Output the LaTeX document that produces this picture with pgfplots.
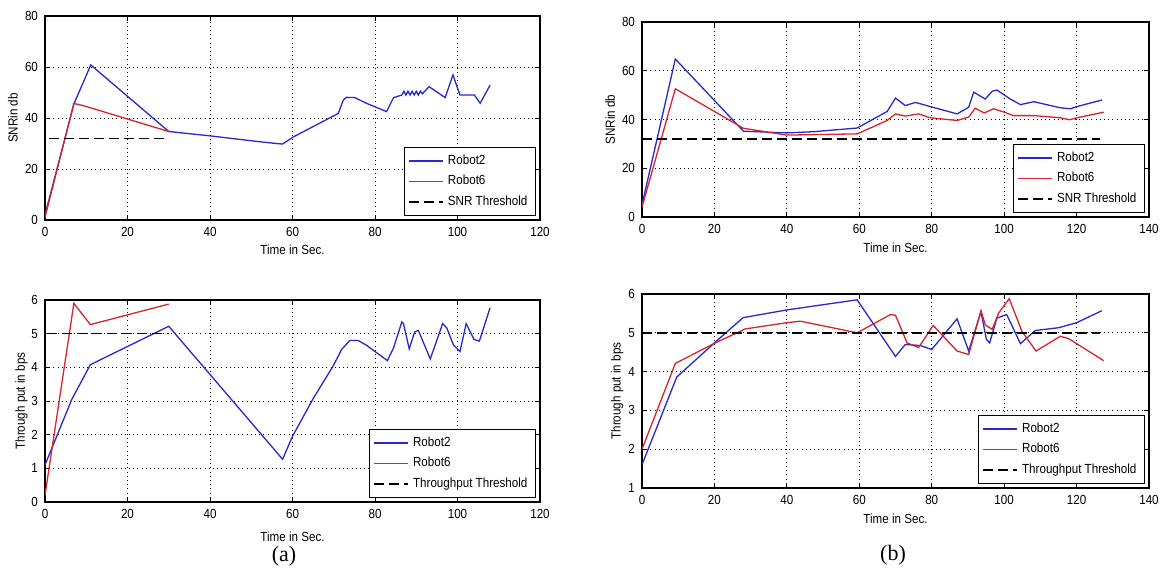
\documentclass[border=0pt]{standalone}
\usepackage{fontspec}
\setmainfont{Liberation Sans}[FakeStretch=0.88]
\newfontfamily\capfont{Liberation Serif}
\usepackage{pgfplots}
\pgfplotsset{compat=1.18}
\definecolor{mblue}{RGB}{40,40,205}
\definecolor{mred}{RGB}{215,35,45}
\newcommand{\fs}{\fontsize{6.6}{7.5}\selectfont}
\pgfplotsset{
  mstyle/.style={
    scale only axis,
    font=\fs,
    /pgf/number format/assume math mode=true,
    tick label style={font=\fs},
    label style={font=\fs},
    grid=major,
    major grid style={black, line width=0.5pt, dash pattern=on 0.5pt off 1.6pt},
    axis line style={black, line width=0.65pt},
    tick style={black, line width=0.5pt},
    major tick length=2.5pt,
    tick align=inside,
    legend style={at={(1,0)}, anchor=south east, xshift=-2pt, yshift=2pt,
      draw=black, line width=0.6pt, font=\fs, inner xsep=2pt, inner ysep=1.5pt,
      row sep=0pt, fill=white},
    legend image code/.code={\draw[#1] (0pt,0pt) -- (17pt,0pt);},
    legend cell align=left,
  },
  bl/.style={mblue, line width=0.65pt, mark=none},
  rd/.style={mred, line width=0.65pt, mark=none},
  th/.style={black, line width=0.7pt, dash pattern=on 5pt off 2.5pt, mark=none},
}
\begin{document}
\begin{tikzpicture}
\useasboundingbox (0,0) rectangle (583.5pt,287pt);

% (a) top
\begin{axis}[mstyle, at={(22.5pt,177pt)}, anchor=south west,
  width=247.5pt, height=102pt,
  xmin=0, xmax=120, ymin=0, ymax=80,
  xtick={0,20,...,120}, ytick={0,20,...,80},
  xlabel={Time in Sec.}, ylabel={SNRin db},
  xlabel style={at={(axis description cs:0.5,-0.147)}, anchor=center},
  ylabel style={at={(axis description cs:-0.065,0.5)}, anchor=center},
]
\addplot[bl] coordinates {(0,2) (7,45.5) (11.1,60.8) (30,34.7) (40,33) (52,30.7) (56,30) (57.6,29.8) (60,32.4) (71.1,41.8) (72.3,47) (73.1,48.1) (75.1,48) (77.9,45.8) (82.8,42.5) (84.5,48) (85.7,48.6) (86.5,49) (87,50.5) (87.5,49) (88,50.5) (88.5,49) (89,50.5) (89.5,49) (90,50.5) (90.5,49) (91,50.5) (91.5,49.5) (93.1,52.3) (97,48) (98.9,56.9) (100.6,49) (104.1,49) (105.5,45.8) (107.9,52.9)};
\addplot[rd] coordinates {(0,1) (7,45.7) (9.2,44.9) (30,34.7)};
\addplot[th] coordinates {(1,32) (30,32)};
\legend{Robot2,Robot6,SNR Threshold}
\end{axis}

% (a) bottom
\begin{axis}[mstyle, at={(22.5pt,36pt)}, anchor=south west,
  width=247.5pt, height=101pt,
  xmin=0, xmax=120, ymin=0, ymax=600000,
  xtick={0,20,...,120}, ytick={0,100000,200000,300000,400000,500000,600000},
  yticklabels={0,1,2,3,4,5,6}, scaled y ticks=false,
  xlabel={Time in Sec.}, ylabel={Through put in  bps},
  xlabel style={at={(axis description cs:0.5,-0.17)}, anchor=center},
  ylabel style={at={(axis description cs:-0.0475,0.5)}, anchor=center},
]
\addplot[bl] coordinates {(0,1.1e5) (6.5,3.05e5) (11,4.08e5) (30,5.22e5) (57.6,1.27e5) (60,1.95e5) (65,3.07e5) (69.9,4.05e5) (71.9,4.53e5) (73.9,4.8e5) (75.9,4.8e5) (77.9,4.66e5) (83,4.2e5) (84.5,4.58e5) (86.5,5.35e5) (86.9,5.3e5) (88.3,4.55e5) (89.6,5.05e5) (90.5,5.1e5) (93.4,4.25e5) (96.4,5.3e5) (97.4,5.17e5) (99,4.67e5) (100.6,4.47e5) (102.1,5.3e5) (104,4.83e5) (105.3,4.78e5) (107.9,5.77e5)};
\addplot[rd] coordinates {(0,0.2e5) (7,5.9e5) (11,5.27e5) (30,5.88e5)};
\addplot[th] coordinates {(0.5,5e5) (30,5e5)};
\legend{Robot2,Robot6,Throughput Threshold}
\node[anchor=base west, inner sep=0pt, font=\fs] at (axis description cs:0,1.035) {x\,10\raisebox{0.55ex}{\fontsize{5}{5}\selectfont 5}};
\end{axis}

% (b) top
\begin{axis}[mstyle, at={(321pt,178.5pt)}, anchor=south west,
  width=253.5pt, height=97.5pt,
  xmin=0, xmax=140, ymin=0, ymax=80,
  xtick={0,20,...,140}, ytick={0,20,...,80},
  xlabel={Time in Sec.}, ylabel={SNRin db},
  xlabel style={at={(axis description cs:0.5,-0.159)}, anchor=center},
  ylabel style={at={(axis description cs:-0.063,0.5)}, anchor=center},
]
\addplot[bl] coordinates {(0,5) (9.2,64.8) (28,35.2) (40,34.5) (47.4,35) (59.4,36.5) (67.7,43.3) (70,48.8) (72.7,45.7) (75.5,47) (79.6,45.3) (87,42.3) (90.2,45) (91.6,51.2) (94.8,48.4) (96.7,51.6) (98,52.1) (101.7,48.4) (104.5,46.1) (108.2,47.3) (115.5,44.8) (118.3,44.4) (120.1,45.3) (127,48)};
\addplot[rd] coordinates {(0,4) (9.2,52.6) (28,36.4) (40,33.6) (59.4,34.1) (67.7,39.6) (70,42.3) (72.7,41.4) (76.4,42.3) (79.6,40.7) (87,39.6) (90.2,41) (92,44.6) (94.5,42.7) (97.1,44.4) (100,43) (102.6,41.6) (108.2,41.6) (115.5,40.7) (118.1,39.9) (120.1,40.7) (127.5,43)};
\addplot[th] coordinates {(0,32) (126.5,32)};
\legend{Robot2,Robot6,SNR Threshold}
\end{axis}

% (b) bottom
\begin{axis}[mstyle, at={(321pt,43pt)}, anchor=south west,
  width=253.5pt, height=97pt,
  xmin=0, xmax=140, ymin=100000, ymax=600000,
  xtick={0,20,...,140}, ytick={100000,200000,300000,400000,500000,600000},
  yticklabels={1,2,3,4,5,6}, scaled y ticks=false,
  xlabel={Time in Sec.}, ylabel={Through put in  bps},
  xlabel style={at={(axis description cs:0.5,-0.16)}, anchor=center},
  ylabel style={at={(axis description cs:-0.049,0.5)}, anchor=center},
]
\addplot[bl] coordinates {(0,1.6e5) (9.6,3.86e5) (20,4.74e5) (27.9,5.39e5) (40,5.59e5) (59.4,5.85e5) (70,4.39e5) (72.7,4.7e5) (76.9,4.67e5) (80,4.57e5) (87,5.36e5) (90.2,4.53e5) (93.6,5.54e5) (95.1,4.83e5) (96,4.74e5) (98,5.38e5) (100.7,5.47e5) (104.5,4.72e5) (108.6,5.06e5) (115,5.13e5) (120,5.26e5) (127,5.57e5)};
\addplot[rd] coordinates {(0,2.0e5) (9.2,4.21e5) (19.8,4.72e5) (28.5,5.1e5) (40,5.26e5) (43.7,5.3e5) (59.4,5.0e5) (68.6,5.47e5) (70,5.45e5) (73.2,4.74e5) (76.4,4.62e5) (80.4,5.19e5) (87,4.53e5) (90.2,4.44e5) (93.6,5.57e5) (94.8,5.2e5) (96.7,5.09e5) (98.5,5.51e5) (101.4,5.88e5) (104.9,5.04e5) (108.8,4.53e5) (115.5,4.91e5) (117.8,4.85e5) (127.5,4.28e5)};
\addplot[th] coordinates {(0,5e5) (126.5,5e5)};
\legend{Robot2,Robot6,Throughput Threshold}
\node[anchor=base west, inner sep=0pt, font=\fs] at (axis description cs:0,1.045) {x\,10\raisebox{0.55ex}{\fontsize{5}{5}\selectfont 5}};
\end{axis}

\node[font=\capfont\fontsize{11}{12}\selectfont] at (142pt,9pt) {(a)};
\node[font=\capfont\fontsize{11}{12}\selectfont] at (446.5pt,9.5pt) {(b)};
\end{tikzpicture}
\end{document}
